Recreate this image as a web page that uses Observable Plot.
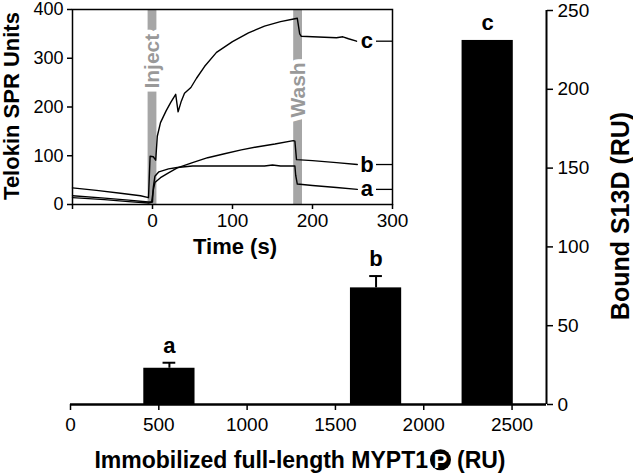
<!DOCTYPE html>
<html><head><meta charset="utf-8">
<script src="https://cdn.jsdelivr.net/npm/d3@7"></script>
<script src="https://cdn.jsdelivr.net/npm/@observablehq/plot@0.6"></script>
<style>
body{margin:0;background:#fff;}
#wrap{position:relative;width:633px;height:475px;}
#wrap svg{position:absolute;left:0;top:0;overflow:visible;}
</style></head><body><div id="wrap"></div>
<script>
const FONT = '"Liberation Sans", Arial, Helvetica, sans-serif';

// ---- Main bar chart data ----
const barLabels = ["a", "b", "c"];
const immobilizedRU = [560, 1730, 2362];
const boundS13D = [23, 74, 231];
const boundErr = [3.5, 7.5, 0];
const xTicks = [0, 500, 1000, 1500, 2000, 2500];
const yTicks = [0, 50, 100, 150, 200, 250];
const xDomain = [0, 2695];
const yDomain = [0, 250];
const xLabelMain = "Immobilized full-length MYPT1";
const xLabelCircled = "P";
const xLabelUnit = "(RU)";
const yLabelMain = "Bound S13D (RU)";

// ---- Inset sensorgram data ----
const timeA = [-100, -60, -30, -5, 0, 1, 3, 8, 20, 31, 50, 80, 110, 140, 150, 160, 178, 179, 181, 200, 230, 256];
const valA  = [14, 10, 6, 3, 5, 35, 58, 67, 73, 76, 79, 79, 79, 79, 81, 79, 79, 60, 42, 39, 35, 31];
const timeB = [-100, -60, -30, -5, -1, 1, 3, 10, 20, 31, 50, 69, 90, 111, 130, 153, 176, 178, 180, 200, 230, 256];
const valB  = [18, 13, 9, 5, 6, 30, 45, 55, 65, 75, 86, 96, 104, 112, 118, 124, 131, 130, 92, 90, 86, 82];
const timeC = [-100, -70, -40, -15, -5, -3, 1, 4, 6, 10, 17, 23, 29, 32, 36, 40, 48, 55, 65, 80, 100, 120, 140, 160, 178, 181, 184, 186, 200, 215, 230, 238, 245, 255];
const valC  = [34, 29, 23, 18, 14, 99, 98, 91, 140, 168, 192, 210, 226, 190, 212, 228, 240, 259, 283, 312, 334, 352, 366, 375, 381, 382, 350, 345, 344, 343, 342, 344, 340, 335];
const seriesNames = ["a", "b", "c"];
const eventNames = ["Inject", "Wash"];
const eventTimes = [0, 182];
const eventLabelY = [294, 235];
const insetXTicks = [-100, 0, 100, 200, 300];
const insetYTicks = [0, 100, 200, 300, 400];
const insetXDomain = [-100, 300];
const insetYDomain = [0, 400];
const insetYLabel = "Telokin SPR Units";
const insetXLabel = "Time (s)";

// ---------- main chart ----------
const bars = barLabels.map((label, i) => ({label, x: immobilizedRU[i], v: boundS13D[i], e: boundErr[i]}));
const BAR_HALF = 145, CAP_HALF = 36;
const withErr = bars.filter(d => d.e > 0);

const main = Plot.plot({
  width: 633, height: 475,
  marginLeft: 70, marginRight: 87, marginTop: 10, marginBottom: 71,
  style: {fontFamily: FONT, fontSize: "19px", color: "black", background: "transparent", overflow: "visible"},
  x: {domain: xDomain},
  y: {domain: yDomain},
  marks: [
    Plot.rect(bars, {x1: d => d.x - BAR_HALF, x2: d => d.x + BAR_HALF, y1: 0, y2: "v", fill: "black"}),
    Plot.ruleX(withErr, {x: "x", y1: "v", y2: d => d.v + d.e, stroke: "black", strokeWidth: 2}),
    Plot.ruleY(withErr, {y: d => d.v + d.e, x1: d => d.x - CAP_HALF, x2: d => d.x + CAP_HALF, stroke: "black", strokeWidth: 2}),
    Plot.text(bars, {x: "x", y: d => d.v + d.e, text: "label", dy: -17, fontSize: 22, fontWeight: "bold", fill: "black"}),
    Plot.ruleY([0], {stroke: "black", strokeWidth: 2.5}),
    Plot.ruleX([xDomain[1]], {stroke: "black", strokeWidth: 2}),
    Plot.axisX({ticks: xTicks, tickSize: 6, tickPadding: 7, fontSize: 19, strokeWidth: 1.5, tickFormat: d => String(d), label: null}),
    Plot.axisY({anchor: "right", ticks: yTicks, tickSize: 6, tickPadding: 5, fontSize: 19, strokeWidth: 1.5, tickFormat: d => String(d), label: null})
  ]
});

// ---------- inset ----------
const mk = (name, T, V) => T.map((t, i) => ({series: name, t, v: V[i]}));
const lines = [...mk("a", timeA, valA), ...mk("b", timeB, valB), ...mk("c", timeC, valC)];
const ends = [valA, valB, valC].map((V, i) => ({series: seriesNames[i], v: V[V.length - 1]}));
const events = eventNames.map((name, i) => ({name, t: eventTimes[i], ly: eventLabelY[i]}));
const BAND_HALF = 5.5;
const LABEL_T = 268, LEAD_T1 = 280;

const inset = Plot.plot({
  width: 400, height: 260,
  marginLeft: 72, marginRight: 8, marginTop: 9, marginBottom: 56,
  style: {fontFamily: FONT, fontSize: "19px", color: "black", background: "transparent", overflow: "visible"},
  x: {domain: insetXDomain},
  y: {domain: insetYDomain},
  marks: [
    Plot.rect(events, {x1: d => d.t - BAND_HALF, x2: d => d.t + BAND_HALF, y1: insetYDomain[0], y2: insetYDomain[1], fill: "#a6a6a6"}),
    Plot.text(events, {x: "t", y: "ly", text: "name", rotate: -90, fontSize: 21, fontWeight: "bold", fill: "#999999", stroke: "white", strokeWidth: 9, strokeLinejoin: "round"}),
    Plot.line(lines, {x: "t", y: "v", z: "series", stroke: "black", strokeWidth: 1.4}),
    Plot.text(ends, {x: LABEL_T, y: "v", text: "series", fontSize: 22, fontWeight: "bold", fill: "black"}),
    Plot.ruleY(ends, {y: "v", x1: LEAD_T1, x2: insetXDomain[1], stroke: "black", strokeWidth: 1.3}),
    Plot.frame({stroke: "black", strokeWidth: 1.5}),
    Plot.axisX({ticks: insetXTicks, tickSize: 5, tickPadding: 4, fontSize: 19, strokeWidth: 1.5, tickFormat: d => d === insetXDomain[0] ? "" : String(d), label: null}),
    Plot.axisY({ticks: insetYTicks, tickSize: 5, tickPadding: 4, fontSize: 18, strokeWidth: 1.5, tickFormat: d => String(d), label: null})
  ]
});

const wrap = document.getElementById("wrap");
wrap.appendChild(main);
wrap.appendChild(inset);

// ---------- axis titles ----------
function addText(svg, {x, y, text, size, rotate = 0, fill = "black", anchor = "middle", baseline = "auto"}) {
  return d3.select(svg).append("text")
    .attr("transform", `translate(${x},${y}) rotate(${rotate})`)
    .attr("text-anchor", anchor)
    .attr("dominant-baseline", baseline)
    .attr("font-family", FONT).attr("font-size", size).attr("font-weight", "bold")
    .attr("fill", fill).text(text);
}
// main x title with circled P
{
  const sel = d3.select(main);
  const size = 23, base = 468, cx0 = 300, r = 10.5, gap = 2, space = 6;
  const g = sel.append("g").attr("font-family", FONT).attr("font-size", size).attr("font-weight", "bold")
    .attr("text-anchor", "start");
  const t1 = g.append("text").attr("y", base).attr("fill", "black").attr("text-anchor", "start").text(xLabelMain);
  const t3 = g.append("text").attr("y", base).attr("fill", "black").attr("text-anchor", "start").text(xLabelUnit);
  const w1 = t1.node().getComputedTextLength();
  const w3 = t3.node().getComputedTextLength();
  const total = w1 + gap + 2 * r + space + w3;
  const x0 = cx0 - total / 2;
  t1.attr("x", x0);
  const ccx = x0 + w1 + gap + r, ccy = base - 0.36 * size;
  g.append("circle").attr("cx", ccx).attr("cy", ccy).attr("r", r).attr("fill", "black");
  g.append("text").attr("x", ccx).attr("y", base - 0.5).attr("text-anchor", "middle").attr("fill", "white")
    .attr("font-size", size * 0.88).text(xLabelCircled);
  t3.attr("x", ccx + r + space);
}
addText(main, {x: 620, y: 216, text: yLabelMain, size: 25, rotate: -90, baseline: "central"});
addText(inset, {x: 11, y: 106, text: insetYLabel, size: 22, rotate: -90, baseline: "central"});
addText(inset, {x: 235, y: 246, text: insetXLabel, size: 22, baseline: "central"});
</script></body></html>
